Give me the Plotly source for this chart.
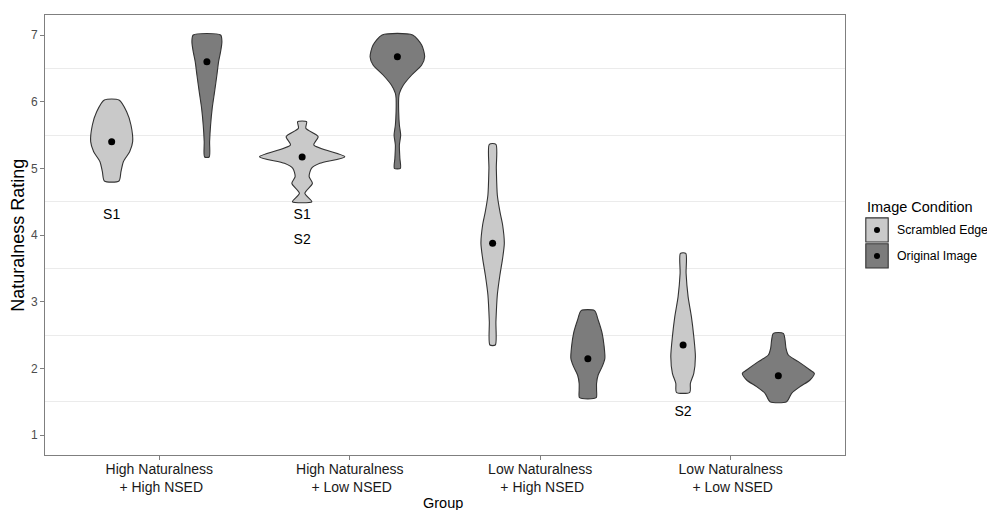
import plotly.graph_objects as go

# ---------------- data ----------------
groups = ["High Naturalness<br> + High NSED", "High Naturalness<br> + Low NSED",
          "Low Naturalness<br> + High NSED", "Low Naturalness<br> + Low NSED"]
conditions = ["Scrambled Edge", "Original Image"]

# density profiles (rating level -> relative density)
sc_y = [
    [4.81, 4.95, 5.10, 5.25, 5.40, 5.65, 5.85, 6.025],
    [4.50, 4.625, 4.775, 4.875, 5.0, 5.075, 5.175, 5.35, 5.475, 5.60, 5.70],
    [2.35, 2.70, 3.10, 3.40, 3.65, 3.875, 4.15, 4.35, 4.60, 5.0, 5.36],
    [1.64, 1.775, 1.925, 2.175, 2.475, 2.775, 3.075, 3.425, 3.725],
]
sc_d = [
    [7.3, 9.3, 11.7, 18.0, 21.0, 19.3, 15.0, 7.3],
    [9.7, 2.7, 10.3, 7.0, 9.3, 17.7, 42.7, 11.7, 16.0, 3.7, 4.5],
    [2.7, 3.3, 4.7, 7.3, 10.0, 11.7, 10.0, 7.3, 4.7, 3.7, 3.3],
    [6.7, 7.3, 10.7, 12.3, 10.7, 8.3, 5.0, 3.0, 2.7],
]
oi_y = [
    [5.17, 5.40, 5.65, 5.90, 6.15, 6.40, 6.60, 6.75, 6.90, 7.0],
    [5.0, 5.15, 5.35, 5.50, 5.65, 5.85, 6.05, 6.125, 6.25, 6.40, 6.55, 6.675, 6.85, 7.0],
    [1.56, 1.675, 1.775, 1.90, 2.025, 2.15, 2.325, 2.525, 2.725, 2.865],
    [1.50, 1.625, 1.725, 1.825, 1.925, 1.975, 2.10, 2.20, 2.30, 2.425, 2.525],
]
oi_d = [
    [2.3, 2.7, 3.7, 5.3, 7.7, 10.0, 11.7, 13.7, 15.0, 13.7],
    [3.0, 2.5, 2.0, 3.3, 2.0, 1.3, 1.3, 2.0, 6.0, 14.3, 24.3, 27.3, 24.3, 15.3],
    [8.3, 8.7, 8.7, 10.3, 14.3, 17.0, 16.3, 14.3, 10.3, 6.7],
    [8.3, 13.3, 21.7, 31.7, 36.0, 31.7, 20.0, 10.0, 7.7, 6.7, 5.0],
]
sc_mean = [5.40, 5.17, 3.875, 2.35]
oi_mean = [6.60, 6.675, 2.145, 1.89]

# text labels
label_text = ["S1", "S1", "S2", "S2"]
label_group = [1, 2, 2, 4]
label_cond = [0, 0, 0, 0]
label_y = [4.30, 4.30, 3.925, 1.345]

# ---------------- style ----------------
fills = ["#c9c9c9", "#7c7c7c"]
outline = "#333333"
dodge = 0.25
dens_to_x = 1 / 190.5
font = "Liberation Sans, Arial, sans-serif"

fig = go.Figure()

def add_violin(center, ys, ds, fill):
    xr = [center + d * dens_to_x for d in ds]
    xl = [center - d * dens_to_x for d in ds]
    xs = xr + xl[::-1] + [xr[0]]
    yy = list(ys) + list(ys)[::-1] + [ys[0]]
    fig.add_trace(go.Scatter(x=xs, y=yy, mode="lines", fill="toself",
                             fillcolor=fill, line=dict(color=outline, width=1.1, shape="spline", smoothing=0.7),
                             hoverinfo="skip", showlegend=False))

for gi in range(4):
    add_violin(gi + 1 - dodge, sc_y[gi], sc_d[gi], fills[0])
    add_violin(gi + 1 + dodge, oi_y[gi], oi_d[gi], fills[1])

fig.add_trace(go.Scatter(x=[i + 1 - dodge for i in range(4)], y=sc_mean, mode="markers",
                         marker=dict(color="black", size=7), showlegend=False))
fig.add_trace(go.Scatter(x=[i + 1 + dodge for i in range(4)], y=oi_mean, mode="markers",
                         marker=dict(color="black", size=7), showlegend=False))

fig.add_trace(go.Scatter(
    x=[g + (-dodge if c == 0 else dodge) for g, c in zip(label_group, label_cond)],
    y=label_y, mode="text", text=label_text,
    textfont=dict(family=font, size=14, color="black"), showlegend=False))

# ---------------- custom legend + axis titles ----------------
shapes = []
annotations = []
annotations.append(dict(x=1.025, y=0.564, xref="paper", yref="paper", text="Image Condition",
                        showarrow=False, xanchor="left", yanchor="middle",
                        font=dict(family=font, size=14.5, color="black")))
key_rows = [(0.484, 0.539), (0.425, 0.480)]
for (y0, y1), fc, name in zip(key_rows, fills, conditions):
    shapes.append(dict(type="rect", xref="paper", yref="paper", x0=1.026, x1=1.054, y0=y0, y1=y1,
                       fillcolor=fc, line=dict(color=outline, width=1.1)))
    shapes.append(dict(type="circle", xref="paper", yref="paper",
                       xsizemode="pixel", ysizemode="pixel",
                       xanchor=1.040, yanchor=(y0 + y1) / 2, x0=-3, x1=3, y0=-3, y1=3,
                       fillcolor="black", line=dict(width=0)))
    annotations.append(dict(x=1.063, y=(y0 + y1) / 2, xref="paper", yref="paper", text=name,
                            showarrow=False, xanchor="left", yanchor="middle",
                            font=dict(family=font, size=12.3, color="black")))

annotations.append(dict(x=-0.034, y=0.5, xref="paper", yref="paper", text="Naturalness Rating",
                        textangle=-90, showarrow=False, xanchor="center", yanchor="middle",
                        font=dict(family=font, size=18, color="black")))
annotations.append(dict(x=0.4975, y=-0.109, xref="paper", yref="paper", text="Group",
                        showarrow=False, xanchor="center", yanchor="middle",
                        font=dict(family=font, size=14.5, color="black")))

fig.update_layout(
    width=987, height=510,
    margin=dict(l=45, r=142, t=15, b=55, autoexpand=False),
    paper_bgcolor="white", plot_bgcolor="white",
    showlegend=False,
    font=dict(family=font),
    shapes=shapes, annotations=annotations,
    xaxis=dict(range=[0.4, 4.6], tickmode="array", tickvals=[1, 2, 3, 4], ticktext=groups,
               showgrid=False, zeroline=False, showline=True, mirror=True, linecolor="#7f7f7f",
               linewidth=1, ticks="outside", ticklen=4, tickcolor="#7f7f7f", automargin=False,
               ticklabelstandoff=-3,
               tickfont=dict(family=font, size=14, color="#1a1a1a")),
    yaxis=dict(range=[0.7, 7.3], tickmode="array", tickvals=[1, 2, 3, 4, 5, 6, 7],
               showgrid=False, zeroline=False, showline=True, mirror=True, linecolor="#7f7f7f",
               linewidth=1, ticks="outside", ticklen=4, tickcolor="#7f7f7f", automargin=False,
               tickfont=dict(family=font, size=12, color="#4d4d4d"),
               minor=dict(tickvals=[1.5, 2.5, 3.5, 4.5, 5.5, 6.5], showgrid=True,
                          gridcolor="#ebebeb", gridwidth=1, ticks="")),
)

fig.write_html("out.html", config={"displayModeBar": False},
               post_script="document.body.style.margin='0';document.body.style.overflow='hidden';")
